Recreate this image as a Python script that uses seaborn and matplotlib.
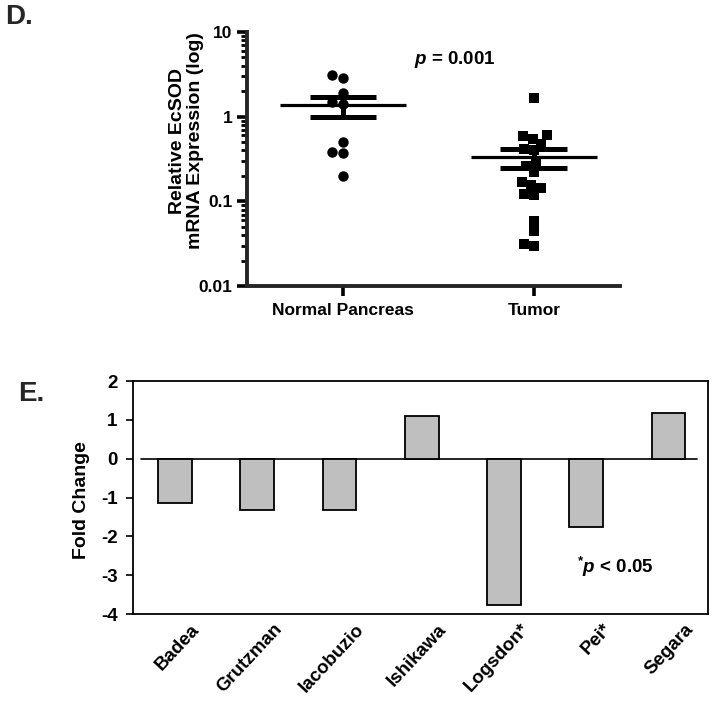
import numpy as np
import pandas as pd
import seaborn as sns
import matplotlib.pyplot as plt
from matplotlib.ticker import NullFormatter
from matplotlib.transforms import ScaledTranslation

# Panel D: relative EcSOD mRNA expression
groups = ['Normal Pancreas', 'Tumor']
normal = [3.1, 2.9, 1.9, 1.5, 1.4, 0.50, 0.38, 0.37, 0.20]
tumor = [1.66, 0.60, 0.59, 0.55, 0.48, 0.41, 0.40, 0.285, 0.26, 0.22,
         0.17, 0.155, 0.145, 0.123, 0.12, 0.059, 0.045, 0.031, 0.030]
log_ticks = [0.01, 0.1, 1, 10]
log_labels = ['0.01', '0.1', '1', '10']

# Panel E: fold change per study
studies = ['Badea', 'Grutzman', 'Iacobuzio', 'Ishikawa', 'Logsdon*', 'Pei*', 'Segara']
fold = [-1.15, -1.31, -1.31, 1.1, -3.77, -1.76, 1.17]
fold_ticks = [-4, -3, -2, -1, 0, 1, 2]

sns.set_theme(style='ticks')
plt.rcParams['font.family'] = ['Liberation Sans', 'DejaVu Sans']
plt.rcParams['font.weight'] = 'bold'
plt.rcParams['axes.labelweight'] = 'bold'
plt.rcParams['axes.unicode_minus'] = False
plt.rcParams['mathtext.fontset'] = 'custom'
plt.rcParams['mathtext.rm'] = 'Liberation Sans:bold'
plt.rcParams['mathtext.it'] = 'Liberation Sans:italic:bold'

fig = plt.figure(figsize=(7.14, 7.03), dpi=100)
ax1 = fig.add_axes([0.346, 0.593, 0.522, 0.3615])
ax2 = fig.add_axes([0.1863, 0.1266, 0.8053, 0.3314])

# ---- panel D ----
df = pd.DataFrame({'group': ['Normal Pancreas'] * len(normal) + ['Tumor'] * len(tumor),
                   'expr': normal + tumor})
ax1.set_yscale('log')
sns.swarmplot(data=df[df['group'] == 'Normal Pancreas'], x='group', y='expr', order=groups,
              marker='o', color='black', size=7.5, ax=ax1)
sns.swarmplot(data=df[df['group'] == 'Tumor'], x='group', y='expr', order=groups,
              marker='s', color='black', size=7, ax=ax1)

stats = df.groupby('group', sort=False)['expr'].agg(['mean', 'sem'])
for i, g in enumerate(groups):
    m, s = stats.loc[g, 'mean'], stats.loc[g, 'sem']
    ax1.hlines(m, i - 0.33, i + 0.33, color='black', lw=2.3, zorder=5)
    ax1.hlines([m - s, m + s], i - 0.175, i + 0.175, color='black', lw=3.6, zorder=5)
    ax1.vlines(i, m - s, m + s, color='black', lw=3.6, zorder=5)

ax1.set_xlim(-0.503, 1.45)
ax1.set_ylim(0.01, 10)
ax1.set_yticks(log_ticks, labels=log_labels)
ax1.yaxis.set_minor_formatter(NullFormatter())
sns.despine(ax=ax1)
for sp in ['left', 'bottom']:
    ax1.spines[sp].set_linewidth(2.8)
ax1.tick_params(axis='both', which='major', width=2.6, length=7, labelsize=12.5,
                color='black', labelcolor='black')
ax1.tick_params(axis='x', pad=5)
ax1.tick_params(axis='y', which='minor', width=2, length=4, color='black')
ax1.set_xlabel('')
ax1.set_ylabel('Relative EcSOD\nmRNA Expression (log)', fontsize=14, fontweight='bold',
               color='black', linespacing=1.1)
ax1.yaxis.set_label_coords(-0.115, 0.571)
ax1.text(0.557, 0.89, '$p$ = 0.001', transform=ax1.transAxes, ha='center', va='center',
         fontsize=13.5, fontweight='bold', color='black')

# ---- panel E ----
sns.barplot(x=studies, y=fold, color='#bfbfbf', edgecolor='black', linewidth=1.3,
            width=0.41, saturation=1, ax=ax2)
ax2.set_xlim(-0.51, 6.48)
ax2.set_ylim(-4, 2)
ax2.axhline(0, xmin=0.014, xmax=0.981, color='black', lw=1.2, zorder=0)
for sp in ax2.spines.values():
    sp.set_linewidth(1.3)
    sp.set_color('black')
ax2.set_yticks(fold_ticks)
ax2.tick_params(axis='y', length=5, width=1.2, labelsize=13.5, pad=6,
                color='black', labelcolor='black')
ax2.tick_params(axis='x', length=0, labelsize=13.5, labelcolor='black', pad=9)
offset = ScaledTranslation(0.22, 0, fig.dpi_scale_trans)
for lab in ax2.get_xticklabels():
    lab.set_rotation(47)
    lab.set_ha('right')
    lab.set_va('center')
    lab.set_rotation_mode('anchor')
    lab.set_fontweight('bold')
    lab.set_transform(lab.get_transform() + offset)
ax2.set_ylabel('Fold Change', fontsize=14, fontweight='bold', color='black')
ax2.yaxis.set_label_coords(-0.075, 0.49)
ax2.text(5.35, -2.8, r'$^{*}p$ < 0.05', ha='center', va='center', fontsize=13.5,
         fontweight='bold', color='black')

fig.text(0.007, 0.976, 'D.', fontsize=20, fontweight='bold', ha='left', va='center')
fig.text(0.025, 0.4395, 'E.', fontsize=20, fontweight='bold', ha='left', va='center')

fig.savefig('out.png', dpi=100)
